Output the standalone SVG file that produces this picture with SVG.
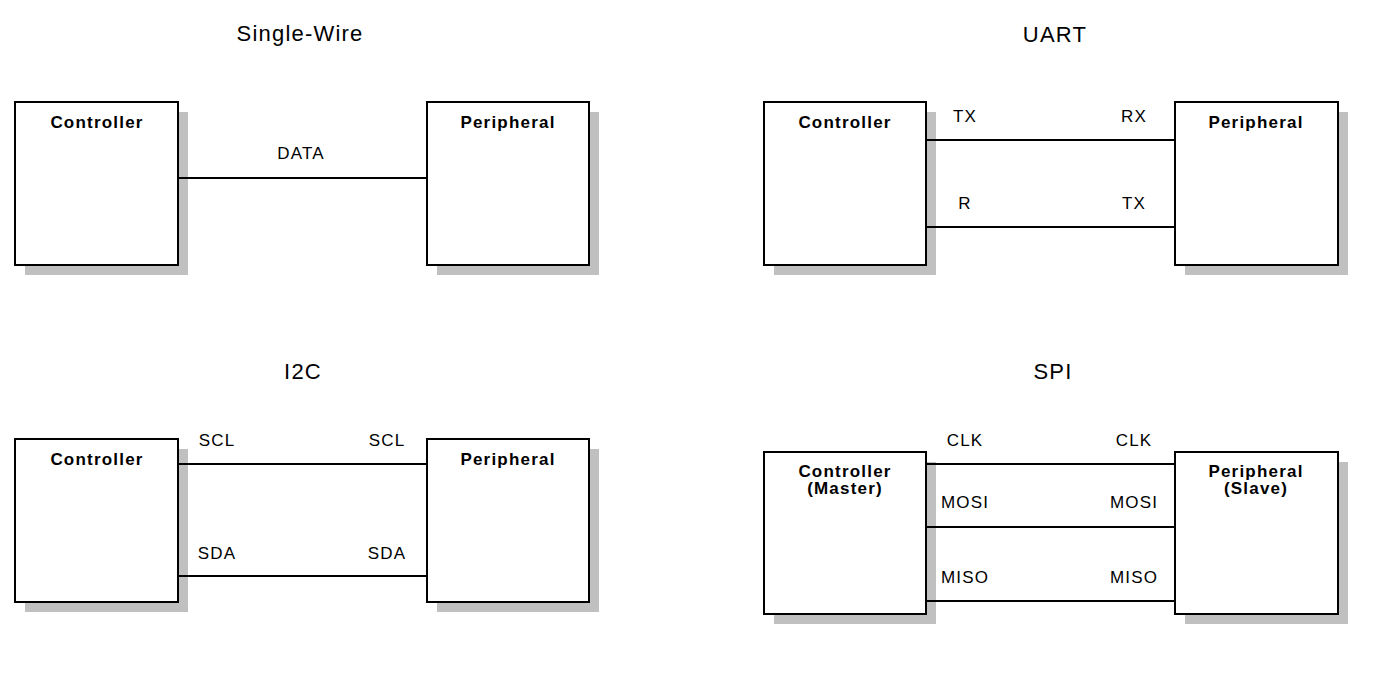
<svg xmlns="http://www.w3.org/2000/svg" width="1400" height="677" viewBox="0 0 1400 677">
<style>
.bg{fill:#ffffff}
.sh{fill:#c0c0c0}
.box{fill:#ffffff;stroke:#000000;stroke-width:2}
.ln{stroke:#000000;stroke-width:2;fill:none}
.title{font-family:"Liberation Sans",Arial,sans-serif;font-size:22px;letter-spacing:1.2px;fill:#000;text-anchor:middle}
.name{font-family:"Liberation Sans",Arial,sans-serif;font-size:17px;font-weight:bold;letter-spacing:1.2px;fill:#000;text-anchor:middle}
.lbl{font-family:"Liberation Sans",Arial,sans-serif;font-size:17px;letter-spacing:1.2px;fill:#000;text-anchor:middle}
</style>
<rect class="bg" x="0" y="0" width="1400" height="677"/>
<g id="titles">
<text class="title" x="300" y="41">Single-Wire</text>
<text class="title" x="1055" y="42">UART</text>
<text class="title" x="303" y="379">I2C</text>
<text class="title" x="1053" y="379">SPI</text>
</g>
<g id="sw-controller">
<rect class="sh" x="25" y="112" width="163" height="163"/>
<rect class="box" x="15" y="102" width="163" height="163"/>
<text class="name" x="97" y="128">Controller</text>
</g>
<g id="sw-peripheral">
<rect class="sh" x="437" y="112" width="162" height="163"/>
<rect class="box" x="427" y="102" width="162" height="163"/>
<text class="name" x="508" y="128">Peripheral</text>
</g>
<g id="uart-controller">
<rect class="sh" x="774" y="112" width="162" height="163"/>
<rect class="box" x="764" y="102" width="162" height="163"/>
<text class="name" x="845" y="128">Controller</text>
</g>
<g id="uart-peripheral">
<rect class="sh" x="1185" y="112" width="163" height="163"/>
<rect class="box" x="1175" y="102" width="163" height="163"/>
<text class="name" x="1256" y="128">Peripheral</text>
</g>
<g id="i2c-controller">
<rect class="sh" x="25" y="449" width="163" height="163"/>
<rect class="box" x="15" y="439" width="163" height="163"/>
<text class="name" x="97" y="465">Controller</text>
</g>
<g id="i2c-peripheral">
<rect class="sh" x="437" y="449" width="162" height="163"/>
<rect class="box" x="427" y="439" width="162" height="163"/>
<text class="name" x="508" y="465">Peripheral</text>
</g>
<g id="spi-controller">
<rect class="sh" x="774" y="462" width="162" height="162"/>
<rect class="box" x="764" y="452" width="162" height="162"/>
<text class="name" x="845" y="477">Controller</text>
<text class="name" x="845" y="494">(Master)</text>
</g>
<g id="spi-peripheral">
<rect class="sh" x="1185" y="462" width="163" height="162"/>
<rect class="box" x="1175" y="452" width="163" height="162"/>
<text class="name" x="1256" y="477">Peripheral</text>
<text class="name" x="1256" y="494">(Slave)</text>
</g>
<g id="connectors">
<line class="ln" x1="178" y1="178" x2="427" y2="178"/>
<line class="ln" x1="926" y1="140" x2="1175" y2="140"/>
<line class="ln" x1="926" y1="227" x2="1175" y2="227"/>
<line class="ln" x1="178" y1="464" x2="427" y2="464"/>
<line class="ln" x1="178" y1="576" x2="427" y2="576"/>
<line class="ln" x1="926" y1="464" x2="1175" y2="464"/>
<line class="ln" x1="926" y1="527" x2="1175" y2="527"/>
<line class="ln" x1="926" y1="601" x2="1175" y2="601"/>
</g>
<g id="labels">
<text class="lbl" x="301" y="159">DATA</text>
<text class="lbl" x="965" y="122">TX</text>
<text class="lbl" x="1134" y="122">RX</text>
<text class="lbl" x="965" y="209">R</text>
<text class="lbl" x="1134" y="209">TX</text>
<text class="lbl" x="217" y="446">SCL</text>
<text class="lbl" x="387" y="446">SCL</text>
<text class="lbl" x="217" y="559">SDA</text>
<text class="lbl" x="387" y="559">SDA</text>
<text class="lbl" x="965" y="446">CLK</text>
<text class="lbl" x="1134" y="446">CLK</text>
<text class="lbl" x="965" y="508">MOSI</text>
<text class="lbl" x="1134" y="508">MOSI</text>
<text class="lbl" x="965" y="583">MISO</text>
<text class="lbl" x="1134" y="583">MISO</text>
</g>
</svg>
